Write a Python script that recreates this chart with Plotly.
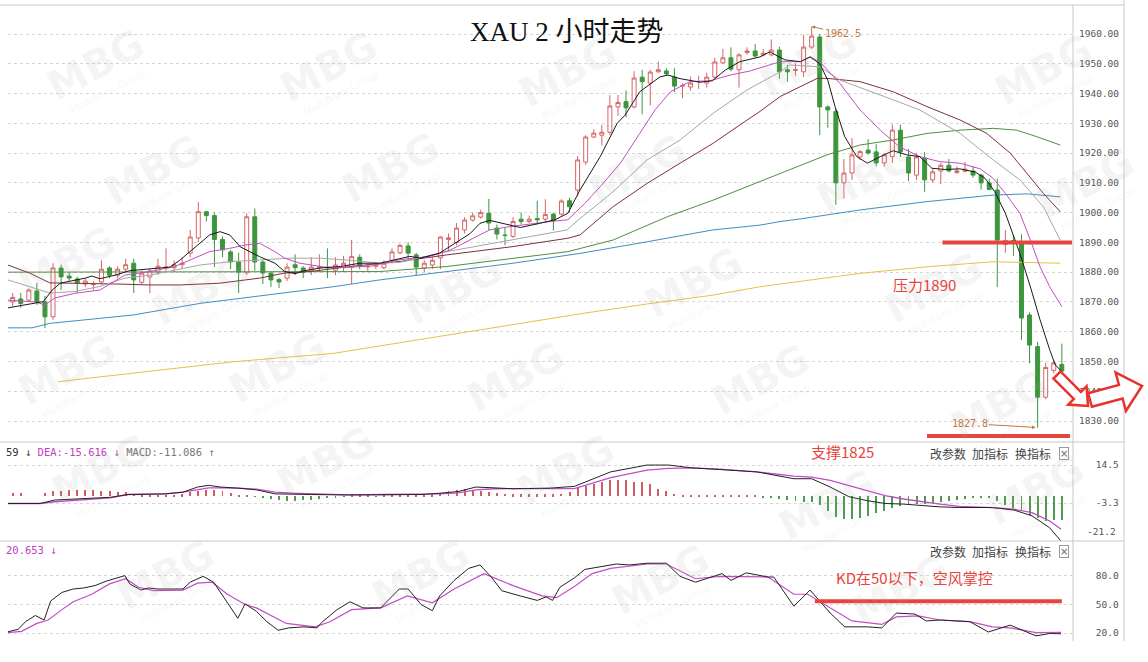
import math
import plotly.graph_objects as go

# ---------------- data ----------------
bar_index = list(range(131))

opens = [1870, 1871, 1870.6, 1873.7, 1870, 1865, 1881.4, 1878.7, 1877.7, 1876,
         1875.8, 1876.7, 1881.4, 1879, 1881, 1883, 1876.6, 1878.4, 1880, 1881.5,
         1881.5, 1882.5, 1886.4, 1891.5, 1900.3, 1899, 1891, 1886.8, 1883.4, 1879.8,
         1898.6, 1883.4, 1879.7, 1877.5, 1878, 1882.5, 1881.4, 1880.4, 1881.5, 1881.7,
         1880.7, 1881.5, 1881.7, 1885, 1881.8, 1882, 1881.5, 1884, 1886.5, 1888.8,
         1885.8, 1881.4, 1882.4, 1884.8, 1891, 1890, 1894.2, 1897.5, 1898.5, 1899.8,
         1894.8, 1892.5, 1892, 1897.8, 1897, 1898, 1897.8, 1899.5, 1899.5, 1904,
         1907.6, 1917, 1925.4, 1926, 1927, 1935.5, 1937.3, 1935.5, 1945.5, 1943.5,
         1947.3, 1947.6, 1945.5, 1942.5, 1942.2, 1944, 1943.5, 1945.5, 1950.3, 1952,
         1948, 1953.8, 1954.3, 1953, 1953, 1954.6, 1948, 1947.8, 1947.3, 1955.6,
         1959, 1935.5, 1934, 1910, 1913.3, 1918.7, 1921, 1920.4, 1916.7, 1918.8,
         1927.7, 1918.7, 1912.6, 1918.3, 1911, 1914, 1915.9, 1913.5, 1913.9, 1914,
         1912.6, 1910, 1907.6, 1889.3, 1890.6, 1890, 1865.6, 1855, 1838, 1847,
         1849]
highs = [1873, 1873, 1874.5, 1876.4, 1872, 1883, 1882.5, 1880, 1878.5, 1878,
         1877, 1884, 1882, 1882, 1884.5, 1884.5, 1880.5, 1881, 1884.5, 1888,
         1884, 1885, 1894.2, 1903.6, 1900.5, 1900, 1892, 1887.5, 1886.5, 1899.7,
         1901.4, 1884, 1880, 1878, 1883, 1886, 1882, 1885, 1886, 1888,
         1885, 1885.5, 1890.8, 1886, 1882.5, 1883.5, 1884, 1888, 1889.5, 1890,
         1886.5, 1884, 1885, 1892, 1893, 1896.5, 1898.5, 1900, 1901, 1904.6,
         1896, 1895, 1898.5, 1900, 1899, 1904, 1904.5, 1900, 1904.5, 1905,
         1919, 1926, 1928, 1929.5, 1939.5, 1939.5, 1941, 1947.5, 1948, 1948,
         1950.7, 1948.5, 1948.5, 1943.5, 1945.7, 1946, 1947, 1952, 1955, 1955.5,
         1953.5, 1955.5, 1956.6, 1955, 1958.2, 1955.7, 1949.6, 1950, 1959.7, 1962.5,
         1960, 1936, 1935, 1918, 1925, 1921, 1924.7, 1923, 1920, 1929.6,
         1929.6, 1921.4, 1920, 1920.4, 1914.7, 1916.7, 1918, 1915.5, 1917, 1915.5,
         1913, 1911.4, 1911.4, 1894.2, 1892.5, 1892.7, 1866.5, 1856.6, 1849.6, 1850.5,
         1856]
lows = [1868.5, 1868, 1870, 1869, 1861.2, 1864, 1874, 1877, 1873, 1875,
        1874, 1876, 1878, 1878, 1880, 1873, 1876, 1873, 1879, 1880,
        1880, 1881, 1885, 1890, 1897, 1881.7, 1885, 1881, 1873, 1879,
        1880.5, 1876, 1875, 1874.7, 1877, 1879, 1878, 1879, 1880, 1878,
        1879, 1880, 1876, 1881, 1880, 1881, 1881, 1883, 1886, 1884,
        1879, 1880, 1881, 1881, 1887, 1889, 1893, 1897, 1898, 1894,
        1891, 1889, 1891.5, 1896, 1896.5, 1896, 1897, 1894, 1899, 1900,
        1905.5, 1916, 1925, 1922.5, 1926, 1932.5, 1932, 1935, 1933, 1936,
        1947, 1946, 1940.5, 1938.4, 1941, 1941.5, 1942, 1945, 1950, 1947.5,
        1942, 1953, 1952, 1952.5, 1952.5, 1945, 1944, 1946, 1945.6, 1955,
        1926, 1928.5, 1902.6, 1904.7, 1911, 1917.7, 1919.5, 1915.5, 1915.5, 1916.7,
        1918.7, 1910.6, 1911, 1907, 1910, 1909.6, 1913.5, 1913, 1913.5, 1911.7,
        1907.7, 1907.5, 1875, 1886.5, 1885.5, 1857.2, 1849.4, 1827.8, 1837.3, 1846,
        1846]
closes = [1871.5, 1869.5, 1874, 1870, 1865, 1881.4, 1878.4, 1878, 1876.4, 1877,
          1876, 1881, 1879, 1881, 1882.5, 1877.4, 1879.7, 1880.4, 1882, 1881.7,
          1882.5, 1883, 1891.8, 1900.3, 1899, 1891, 1887.5, 1883.4, 1880, 1898.6,
          1883.4, 1879.7, 1877.4, 1876.7, 1881.7, 1881.5, 1880, 1881.7, 1881.7, 1881.5,
          1882.4, 1883, 1885.2, 1882.4, 1882, 1882.4, 1883, 1886.8, 1889, 1886.4,
          1881.7, 1883, 1884, 1891.8, 1891.5, 1894.8, 1897.5, 1898.9, 1900, 1896.5,
          1892.8, 1892.3, 1897, 1897, 1897.8, 1897.6, 1899.4, 1897.3, 1903.9, 1902,
          1917.7, 1925.4, 1926.7, 1927, 1935.8, 1937, 1935.2, 1945.2, 1944, 1947.2,
          1948, 1946.6, 1942.5, 1942.7, 1943.5, 1944, 1945.5, 1950.6, 1952, 1948.2,
          1953, 1954.3, 1952.6, 1953.5, 1954.6, 1947.3, 1947.3, 1948, 1955.6, 1959.3,
          1935.5, 1934.5, 1910, 1913.3, 1919.4, 1920.5, 1920, 1916.7, 1919.4, 1927.7,
          1920.4, 1913.3, 1918.7, 1911, 1913.7, 1915.9, 1914, 1914, 1914.6, 1912.6,
          1910, 1907.8, 1890.8, 1890.6, 1889.6, 1864.6, 1855.5, 1838, 1848, 1849.5,
          1846.8]

# moving-average lines, read at sample bars
ma5_x = [-0.6, 3.8, 4.9, 5.9, 9.0, 9.8, 10.8, 12.7, 14.5, 17.0, 19.5, 20.7, 22.6, 24.4, 25.7,
         26.9, 28.2, 29.4, 30.6, 32.5, 33.7, 35.0, 36.2, 38.1, 40.6, 43.0, 45.5, 49.2, 50.5, 52.9,
         56.7, 57.9, 59.1, 61.0, 62.9, 65.3, 67.2, 68.8, 70.3, 72.8, 74.9, 75.9, 77.7, 80.2, 81.2,
         82.7, 85.2, 86.7, 88.3, 90.1, 92.6, 93.8, 95.7, 97.6, 98.8, 100.0, 101.0, 101.9, 103.1, 104.6,
         105.9, 107.5, 109.1, 110.8, 112.4, 113.9, 115.5, 117.4, 119.3, 120.5, 121.7, 123.0, 123.9,
         124.8, 126.1, 127.3, 128.5, 129.2, 130.0]
ma5_y = [1868.0, 1870.1, 1874, 1876.3, 1878, 1878.7, 1877.8, 1879, 1880.5, 1881, 1881.7, 1884, 1888.5,
         1892.5, 1893.6, 1892.5, 1888.5, 1886.8, 1885.2, 1883, 1880.2, 1879.5, 1880.5, 1881.4, 1881.9,
         1883, 1883, 1885.3, 1884.7, 1886.4, 1893, 1896.4, 1897.4, 1896.2, 1895, 1896.4, 1897.6, 1899.8,
         1907.6, 1918.8, 1930, 1932.8, 1940.6, 1945.6, 1946.2, 1945, 1943.8, 1944.3, 1947.9, 1950.7,
         1952.3, 1954, 1951.3, 1950.7, 1952.3, 1950, 1944.5, 1935.6, 1925.5, 1918.8, 1916.6, 1918.8,
         1920.8, 1919.4, 1918.8, 1914.9, 1914.5, 1914.7, 1913.6, 1911.5, 1907, 1899.8, 1893.1, 1886.3,
         1875.1, 1864, 1853.9, 1848.8, 1846.6]
ma10_x = [-0.6, 2.8, 4.0, 5.2, 7.7, 10.8, 13.9, 17.0, 20.1, 22.6, 24.4, 26.9, 28.8, 30.6, 32.5,
          33.7, 35.6, 39.3, 44.3, 48.0, 51.7, 54.2, 56.7, 59.1, 61.6, 64.1, 66.6, 68.8, 70.9, 72.8,
          75.3, 77.7, 79.6, 81.5, 83.9, 86.4, 88.9, 91.4, 94.5, 95.1, 97.6, 98.8, 100.0, 102.5, 105.0,
          107.5, 109.9, 112.4, 114.9, 117.4, 119.9, 121.5, 123.0, 124.8, 126.1, 127.3, 128.5, 130.0]
ma10_y = [1870.6, 1870, 1869, 1871.3, 1872.9, 1874, 1879, 1880.2, 1881.9, 1884.7, 1886.9, 1888, 1889.1,
          1889.7, 1886.9, 1884.7, 1883, 1881.4, 1882, 1884.2, 1885.3, 1887.4, 1890.8, 1894.2, 1895.3,
          1896.2, 1897, 1897.6, 1903.1, 1908.7, 1916.6, 1926.6, 1934.5, 1940.6, 1944, 1944.3, 1946.2,
          1947.6, 1950.2, 1950.7, 1950.7, 1952.3, 1950.7, 1943.4, 1934.5, 1927.7, 1922.1, 1918.8,
          1917.1, 1916.6, 1914.7, 1911.5, 1906.5, 1899.8, 1890.8, 1881.8, 1875.1, 1868.4]
ma20_x = [-0.6, 2.1, 4.6, 7.7, 10.8, 13.9, 17.0, 20.1, 23.2, 26.9, 30.6, 34.4, 38.1, 41.8, 45.5,
          48.0, 53.8, 62.0, 68.7, 70.3, 74.4, 78.6, 82.7, 86.8, 91.0, 95.1, 96.3, 100.0, 102.5, 107.5,
          112.4, 117.4, 121.5, 124.8, 127.7, 129.8]
ma20_y = [1877.4, 1875.2, 1873, 1873.5, 1875.2, 1878, 1879, 1880.7, 1882.4, 1883.5, 1884, 1884.7,
          1884.7, 1884, 1883, 1883.3, 1886.9, 1890.8, 1894.2, 1898.0, 1907.0, 1917.7, 1924.4, 1933.4,
          1941.2, 1947.3, 1949.6, 1949, 1944.5, 1939.5, 1934.5, 1926.6, 1917.7, 1911, 1902, 1890.8]
ma30_x = [-0.6, 2.1, 4.6, 8.3, 13.3, 17.0, 20.7, 25.7, 30.6, 33.7, 36.8, 41.8, 46.1, 48.0, 53.8,
          62.0, 68.8, 70.3, 74.4, 78.6, 82.7, 86.8, 91.0, 92.6, 95.1, 97.6, 99.7, 100.9, 105.0, 109.1,
          113.3, 117.4, 120.7, 123.6, 125.7, 127.7, 129.8]
ma30_y = [1882.4, 1879.7, 1876.4, 1876.3, 1876, 1875.7, 1875.7, 1876.3, 1878, 1879.7, 1880.2, 1881.9,
          1883, 1883.6, 1885.8, 1888.6, 1891.4, 1892.5, 1902, 1909.8, 1916.6, 1923.3, 1931.1, 1934,
          1939, 1942.3, 1945.1, 1945.1, 1944, 1940.6, 1935.6, 1931.1, 1926.6, 1920, 1913.2, 1906.5, 1900.3]
ma60_x = [-0.6, 23.2, 45.5, 53.8, 62.0, 68.8, 74.4, 81.1, 86.8, 91.0, 95.1, 100.9, 105.0, 109.1,
          113.3, 117.4, 121.5, 124.4, 126.9, 129.8]
ma60_y = [1880.0, 1880.0, 1880.2, 1881.9, 1884.7, 1886.9, 1890.8, 1898.6, 1904.2, 1908.7, 1913.2,
          1919.4, 1922.7, 1924.4, 1926.6, 1927.7, 1928.3, 1927.7, 1925.5, 1922.7]
ma120_x = [-0.6, 2.4, 4.6, 14.9, 23.2, 31.5, 39.7, 45.5, 48.0, 53.8, 62.0, 70.3, 78.6, 86.8, 92.6,
           95.1, 97.9, 105.0, 113.3, 121.5, 125.7, 129.8]
ma120_y = [1861.3, 1861.3, 1862.8, 1865.6, 1869.5, 1872.3, 1875.1, 1877.4, 1878.2, 1880.2, 1883,
           1886.3, 1890.2, 1894.2, 1895.8, 1897.0, 1898, 1900.9, 1903.7, 1905.9, 1906.3, 1905.3]
ma250_x = [5.6, 14.9, 27.3, 39.7, 45.5, 53.8, 62.0, 70.3, 78.6, 86.8, 92.6, 105.0, 113.3, 121.5, 129.8]
ma250_y = [1843.2, 1846, 1849.9, 1852.7, 1855.2, 1858.8, 1862.2, 1866, 1869.3, 1872.3, 1875.1,
           1879.6, 1881.8, 1883.5, 1883]

# MACD panel
macd_x = [-0.7, 1.4, 3.4, 5.2, 7.5, 12.1, 14.3, 18.9, 21.1, 22.9, 24.3, 25.7, 27.9, 30.2, 32.5,
          34.7, 37.0, 41.6, 46.1, 50.6, 52.9, 55.2, 57.4, 59.8, 62.0, 66.5, 69.6, 74.1, 78.6, 81.3,
          84.1, 87.6, 92.2, 96.8, 99.0, 101.3, 103.6, 105.9, 108.1, 110.4, 112.7, 114.9, 117.3,
          121.4, 124.1, 126.3, 128.5, 129.9]
dif_y = [-3.5, -3.5, -3.5, -1.9, -1.4, -0.6, 0.7, 1.0, 1.8, 4.2, 5.0, 4.2, 3.7, 2.9, 1.0, 0.7, 0.7,
         0.5, 0.7, 0.7, 1.3, 2.1, 4.2, 3.7, 3.4, 3.7, 4.5, 11.3, 14.5, 14.5, 13.2, 12.4, 11.3, 8.1,
         8.1, 4.2, -0.3, -2.2, -3.5, -3.8, -4.6, -5.1, -5.4, -5.4, -6.6, -9.3, -14.9, -21.16]
dea_y = [-3.5, -3.5, -3.5, -2.7, -2.2, -0.9, 0.7, 1.0, 1.8, 2.9, 3.8, 3.8, 3.7, 3.2, 1.8, 1.3, 1.0,
         0.5, 0.7, 0.7, 1.0, 1.5, 2.9, 3.4, 3.4, 3.7, 3.5, 8.6, 12.1, 12.9, 13.2, 12.6, 11.3, 9.3,
         8.8, 7.3, 5.0, 2.6, 0.2, -1.4, -2.7, -3.8, -4.9, -5.4, -6.2, -7.8, -11.7, -15.62]
macd_hist = [1.4, 1.4, 0, 0, 1.6, 2.2, 2.5, 2.7, 2.8, 2.8, 2.7, 2.5, 2.3, 2.1, 1.8,
             1.0, 0.8, 0.6, 0.5, 0.5, 0.6, 0.9,
             1.8, 2.5, 2.9, 2.7, 2.3, 1.5,
             0.5, 0.3, -0.4,
             -1.0, -1.6, -2.0, -2.2, -2.2, -2.0, -1.8, -1.5, -1.0,
             -0.5, -0.4, 0.3, 0.4, 0.3, -0.3, 0.3, 0.4, 0.3, 0.3, 0.4, 0.6, 0.9,
             1.6, 2.2, 2.8, 3.1, 2.9, 2.5, 1.9, 1.3,
             1.0, 0.9, 0.8, 0.9, 0.9, 0.8, 0.9, 1.0, 1.8,
             4.1, 4.5, 5.7, 6.5, 7.6, 7.6, 7.3, 6.5, 6.5, 5.7, 3.3, 2.2, 1.0,
             0.5, 0.4, 0.4, 0.4, 0.4, 0.4, 0.4, 0.4, 0.4, 0.4, -0.6, -0.9,
             -1.2, -1.7, -2.2, -2.7, -3.0,
             -4, -7, -10, -11, -11, -10.5, -9.5, -8, -7,
             -5.4, -4.8, -4.3, -3.8, -3.6, -3.2, -2.8, -2.5, -1.8, -1.3, -1.0, -0.8, -0.5,
             -2.5, -4, -5.5, -7, -9, -10.5, -11.5, -11.3, -11.1]

# KD panel
k_x = [-0.7, 0.7, 1.6, 2.8, 3.9, 4.7, 6.1, 7.5, 8.8, 10.2, 11.6, 13.9, 14.5, 15.9, 16.8, 18.0, 19.7,
       21.1, 22.0, 23.6, 24.9, 26.6, 27.9, 28.8, 30.2, 31.5, 32.9, 34.2, 36.1, 37.7, 38.3, 40.2, 41.8,
       43.4, 45.6, 47.9, 49.0, 50.6, 52.0, 52.9, 54.7, 56.5, 57.9, 59.3, 60.6, 62.9, 65.0, 66.1, 66.9,
       67.8, 69.6, 70.9, 73.1, 74.8, 76.4, 78.6, 81.0, 82.7, 84.6, 86.4, 87.9, 89.0, 90.9, 93.6, 94.3,
       96.8, 98.8, 101.3, 103.1, 105.9, 107.7, 109.5, 111.8, 113.2, 114.9, 118.6, 120.9, 123.6, 126.8,
       128.5, 129.9]
k_y = [21, 24, 32, 38.4, 33.7, 53.6, 62.7, 66.3, 67.4, 69.9, 74.6, 80.4, 71.7, 65.2, 67.4, 66.3, 66.3,
       66.3, 73.5, 79.6, 73.5, 51.8, 35.5, 50.7, 42.8, 31.9, 22.9, 25.4, 26.5, 25.4, 31.2, 44.6, 52.9,
       46.4, 46.4, 66.3, 66.3, 50, 43.5, 59, 75.3, 88, 91.6, 78.9, 64.5, 59, 54.3, 58, 54.3, 68.1, 78,
       86.9, 89.8, 92.6, 91.6, 93.4, 93.4, 79.6, 73.5, 78.2, 82.5, 75.3, 83.3, 78.9, 78.9, 48.2, 65.2,
       41, 26.5, 26.5, 25.4, 41, 39.9, 32.7, 33.7, 31.9, 21.1, 28.3, 17, 19.5, 19.2]
d_x = [-0.7, 1.1, 3.0, 4.4, 6.1, 7.5, 9.8, 12.0, 14.0, 15.6, 17.5, 21.1, 22.9, 24.7, 26.6, 28.8, 30.2,
       33.9, 37.5, 39.3, 42.0, 45.6, 48.9, 52.0, 54.7, 58.4, 62.0, 65.6, 67.4, 69.6, 71.8, 74.1, 78.6,
       81.0, 84.6, 87.6, 93.6, 96.8, 98.5, 101.3, 104.0, 107.7, 109.5, 112.2, 114.9, 118.6, 121.4,
       123.6, 126.8, 129.9]
d_y = [20.4, 21.8, 30.1, 33.7, 44.6, 52.9, 60.8, 71.7, 77.1, 68.1, 64.5, 65.2, 72.5, 73.5, 60.8, 50,
       46.4, 30.1, 26.5, 31.9, 44.6, 46.4, 59, 51.8, 66.3, 82.5, 69.9, 59, 57.2, 69, 82.5, 88, 92.6,
       92.6, 77.1, 79.6, 78.9, 60.8, 60.8, 46.4, 32.7, 29, 37, 38.1, 33.7, 31.9, 26.5, 25.4, 20.4, 20.65]

price_ticks = [1830, 1840, 1850, 1860, 1870, 1880, 1890, 1900, 1910, 1920, 1930, 1940, 1950, 1960]
macd_ticks = [14.5, -3.3, -21.2]
kd_ticks = [80.0, 50.0, 20.0]
resistance = 1890
support = 1825
kd_level = 53.5
high_mark = 1962.5
low_mark = 1827.8

# ---------------- layout helpers ----------------
W, H = 1148, 662


def px(x):
    return x / W


def py(y):
    return 1 - y / H


XL, XR = 8, 1072
X_RANGE = [-0.58, 131.26]
AX_FONT = dict(family="DejaVu Sans Mono", size=9.5, color="#555555")
CJK = "Noto Sans CJK SC"
RED = "#e6443c"

fig = go.Figure()

fig.add_trace(go.Candlestick(
    x=bar_index, open=opens, high=highs, low=lows, close=closes,
    increasing=dict(line=dict(color="#d46464", width=1), fillcolor="#ffffff"),
    decreasing=dict(line=dict(color="#3d963d", width=1), fillcolor="#3d963d"),
    whiskerwidth=0, xaxis="x", yaxis="y", showlegend=False, hoverinfo="skip"))

ma_specs = [
    (ma250_x, ma250_y, "#e6c04a"),
    (ma120_x, ma120_y, "#3d8fc4"),
    (ma60_x, ma60_y, "#4e8f3e"),
    (ma30_x, ma30_y, "#7d2f3c"),
    (ma20_x, ma20_y, "#a6a6a6"),
    (ma10_x, ma10_y, "#c44cc4"),
    (ma5_x, ma5_y, "#1a1a1a"),
]
for xs, ys, col in ma_specs:
    fig.add_trace(go.Scatter(x=xs, y=ys, mode="lines", line=dict(color=col, width=1),
                             xaxis="x", yaxis="y", showlegend=False, hoverinfo="skip"))

hist_colors = ["#cc5c66" if v >= 0 else "#4f9a4f" for v in macd_hist]
fig.add_trace(go.Bar(x=bar_index, y=macd_hist, width=0.12, marker=dict(color=hist_colors, line=dict(width=0)),
                     xaxis="x2", yaxis="y2", showlegend=False, hoverinfo="skip"))
fig.add_trace(go.Scatter(x=macd_x, y=dea_y, mode="lines", line=dict(color="#c44cc4", width=1.3),
                         xaxis="x2", yaxis="y2", showlegend=False, hoverinfo="skip"))
fig.add_trace(go.Scatter(x=macd_x, y=dif_y, mode="lines", line=dict(color="#222222", width=1),
                         xaxis="x2", yaxis="y2", showlegend=False, hoverinfo="skip"))

fig.add_trace(go.Scatter(x=d_x, y=d_y, mode="lines", line=dict(color="#c44cc4", width=1.2),
                         xaxis="x3", yaxis="y3", showlegend=False, hoverinfo="skip"))
fig.add_trace(go.Scatter(x=k_x, y=k_y, mode="lines", line=dict(color="#222222", width=1),
                         xaxis="x3", yaxis="y3", showlegend=False, hoverinfo="skip"))

xdom = [px(XL), px(XR)]
xcommon = dict(domain=xdom, range=X_RANGE, showgrid=False, zeroline=False, showticklabels=False,
               ticks="", showline=False)
ycommon = dict(side="right", showgrid=True, gridcolor="#d6d6d6", griddash="dot", gridwidth=1,
               zeroline=False, showline=False, ticks="", tickfont=AX_FONT)

nb = "\u00a0"
fig.update_layout(
    width=W, height=H, margin=dict(l=0, r=0, t=0, b=0),
    paper_bgcolor="white", plot_bgcolor="rgba(0,0,0,0)", hovermode=False, bargap=0,
    xaxis=dict(**xcommon, anchor="y", rangeslider=dict(visible=False)),
    xaxis2=dict(**xcommon, anchor="y2", matches="x"),
    xaxis3=dict(**xcommon, anchor="y3", matches="x"),
    yaxis=dict(**ycommon, domain=[py(442), py(5)], range=[1822.95, 1969.74],
               tickvals=price_ticks, ticktext=[f"{v:.2f}" for v in price_ticks],
               ticklabelstandoff=6, anchor="x"),
    yaxis2=dict(**ycommon, domain=[py(541.9), py(442)], range=[-21.5, 25.3],
                tickvals=macd_ticks, ticktext=[f"{v:.1f}".rjust(5, nb) for v in macd_ticks[:2]] + [""],
                ticklabelstandoff=17, anchor="x2"),
    yaxis3=dict(**ycommon, domain=[py(641), py(541)], range=[11.6, 116.8],
                tickvals=kd_ticks, ticktext=[f"{v:.1f}".rjust(5, nb) for v in kd_ticks],
                ticklabelstandoff=17, anchor="x3"),
)

# frame lines
frame = "#c8c8c8"
shapes = [
    dict(type="line", xref="paper", yref="paper", x0=0, x1=px(1124), y0=py(5), y1=py(5), line=dict(color=frame, width=1)),
    dict(type="line", xref="paper", yref="paper", x0=0, x1=px(1124), y0=py(442), y1=py(442), line=dict(color=frame, width=1)),
    dict(type="line", xref="paper", yref="paper", x0=0, x1=px(1124), y0=py(541), y1=py(541), line=dict(color=frame, width=1)),
    dict(type="line", xref="paper", yref="paper", x0=px(1073), x1=px(1073), y0=py(5), y1=py(641), line=dict(color=frame, width=1)),
    dict(type="line", xref="paper", yref="paper", x0=px(1124), x1=px(1124), y0=py(0), y1=py(641), line=dict(color=frame, width=1)),
    # red drawn levels
    dict(type="line", xref="x", yref="y", x0=115.2, x1=131.26, y0=resistance, y1=resistance, line=dict(color=RED, width=4)),
    dict(type="line", xref="x", yref="y", x0=113.3, x1=131.0, y0=support, y1=support, line=dict(color=RED, width=4)),
    dict(type="line", xref="x3", yref="y3", x0=99.4, x1=130.0, y0=kd_level, y1=kd_level, line=dict(color=RED, width=4)),
]


def arrow_path(tail, tip, shaft_hw, head_hw, head_len):
    dx, dy = tip[0] - tail[0], tip[1] - tail[1]
    L = math.hypot(dx, dy)
    ux, uy = dx / L, dy / L
    nx, ny = -uy, ux
    bx, by = tip[0] - ux * head_len, tip[1] - uy * head_len
    pts = [(tail[0] + nx * shaft_hw, tail[1] + ny * shaft_hw),
           (bx + nx * shaft_hw, by + ny * shaft_hw),
           (bx + nx * head_hw, by + ny * head_hw),
           tip,
           (bx - nx * head_hw, by - ny * head_hw),
           (bx - nx * shaft_hw, by - ny * shaft_hw),
           (tail[0] - nx * shaft_hw, tail[1] - ny * shaft_hw)]
    return "M " + " L ".join(f"{px(x):.5f},{py(y):.5f}" for x, y in pts) + " Z"


for tail, tip, shw, hhw, hl in [((1057, 375), (1088, 406), 5, 13, 15),
                                ((1090, 400), (1142, 386), 7, 20, 22)]:
    shapes.append(dict(type="path", xref="paper", yref="paper", path=arrow_path(tail, tip, shw, hhw, hl),
                       fillcolor="white", line=dict(color="#e8322c", width=2.5)))
fig.update_layout(shapes=shapes)

ann = []

# faint "MBG" watermarks (background decoration)
wm_centers = [(95, 65), (328, 67), (567, 72), (808, 62), (1043, 70),
              (153, 170), (390, 168), (637, 170), (865, 178), (1085, 183),
              (66, 262), (200, 290), (453, 290), (693, 283), (933, 288),
              (66, 370), (277, 368), (515, 377), (760, 380), (1000, 405),
              (100, 470), (325, 462), (565, 470), (827, 505), (1035, 490),
              (165, 575), (420, 575), (660, 580), (900, 590)]
for cx, cy in wm_centers:
    ann.append(dict(xref="paper", yref="paper", x=px(cx), y=py(cy), text="<b>MBG</b>", showarrow=False,
                    textangle=-28, xanchor="center", yanchor="middle",
                    font=dict(family="DejaVu Sans", size=40, color="rgba(170,170,170,0.12)")))
    ann.append(dict(xref="paper", yref="paper", x=px(cx + 12), y=py(cy + 26), text="MultiBank Group",
                    showarrow=False, textangle=-28, xanchor="center", yanchor="middle",
                    font=dict(family="DejaVu Sans", size=10, color="rgba(170,170,170,0.12)")))


def label(x, y, text, size=15, color=RED, family=CJK, xanchor="center"):
    ann.append(dict(xref="paper", yref="paper", x=px(x), y=py(y), text=text, showarrow=False,
                    xanchor=xanchor, yanchor="middle", font=dict(family=family, size=size, color=color)))


label(567, 32, "XAU 2 小时走势", size=27, color="#111111", family="Liberation Serif, Noto Sans CJK SC")
label(924, 284, "压力1890")
label(842, 451, "支撑1825")
label(915, 577, "KD在50以下，空风掌控")

for yy in (453, 551):
    label(948, yy, "改参数", size=12, color="#444444")
    label(990, yy, "加指标", size=12, color="#444444")
    label(1033, yy, "换指标", size=12, color="#444444")
    ann.append(dict(xref="paper", yref="paper", x=px(1064), y=py(yy), text="×", showarrow=False,
                    xanchor="center", yanchor="middle", bordercolor="#999999", borderwidth=1, borderpad=0,
                    font=dict(family="DejaVu Sans", size=10, color="#666666")))

label(4, 452, '<span style="color:#333333">59 ↓ </span><span style="color:#c040c0">DEA:-15.616 ↓ </span>'
              '<span style="color:#777777">MACD:-11.086 ↑</span>', size=10.5, color="#333333",
      family="DejaVu Sans Mono", xanchor="left")
label(4, 550, "20.653 ↓", size=10.5, color="#c040c0", family="DejaVu Sans Mono", xanchor="left")

# -21.2 label sits just inside the MACD panel bottom
ann.append(dict(xref="paper", yref="y2", x=px(1118), y=macd_ticks[2], yshift=10, text=f"{macd_ticks[2]:.1f}",
                showarrow=False, xanchor="right", yanchor="middle", font=AX_FONT))

ORANGE = "#c8783c"
ann.append(dict(xref="x", yref="y", x=99, y=high_mark, text=f"{high_mark}", showarrow=True, ax=31, ay=7,
                arrowhead=2, arrowsize=0.7, arrowwidth=1, arrowcolor=ORANGE,
                font=dict(family="DejaVu Sans Mono", size=10, color=ORANGE)))
ann.append(dict(xref="x", yref="y", x=127, y=low_mark, text=f"{low_mark}", showarrow=True, ax=-68, ay=-4,
                arrowhead=2, arrowsize=0.7, arrowwidth=1, arrowcolor=ORANGE, standoff=2,
                font=dict(family="DejaVu Sans Mono", size=10, color=ORANGE)))
fig.update_layout(annotations=ann)

fig.write_html("out.html", config={"displayModeBar": False},
               post_script="document.body.style.margin='0';")
